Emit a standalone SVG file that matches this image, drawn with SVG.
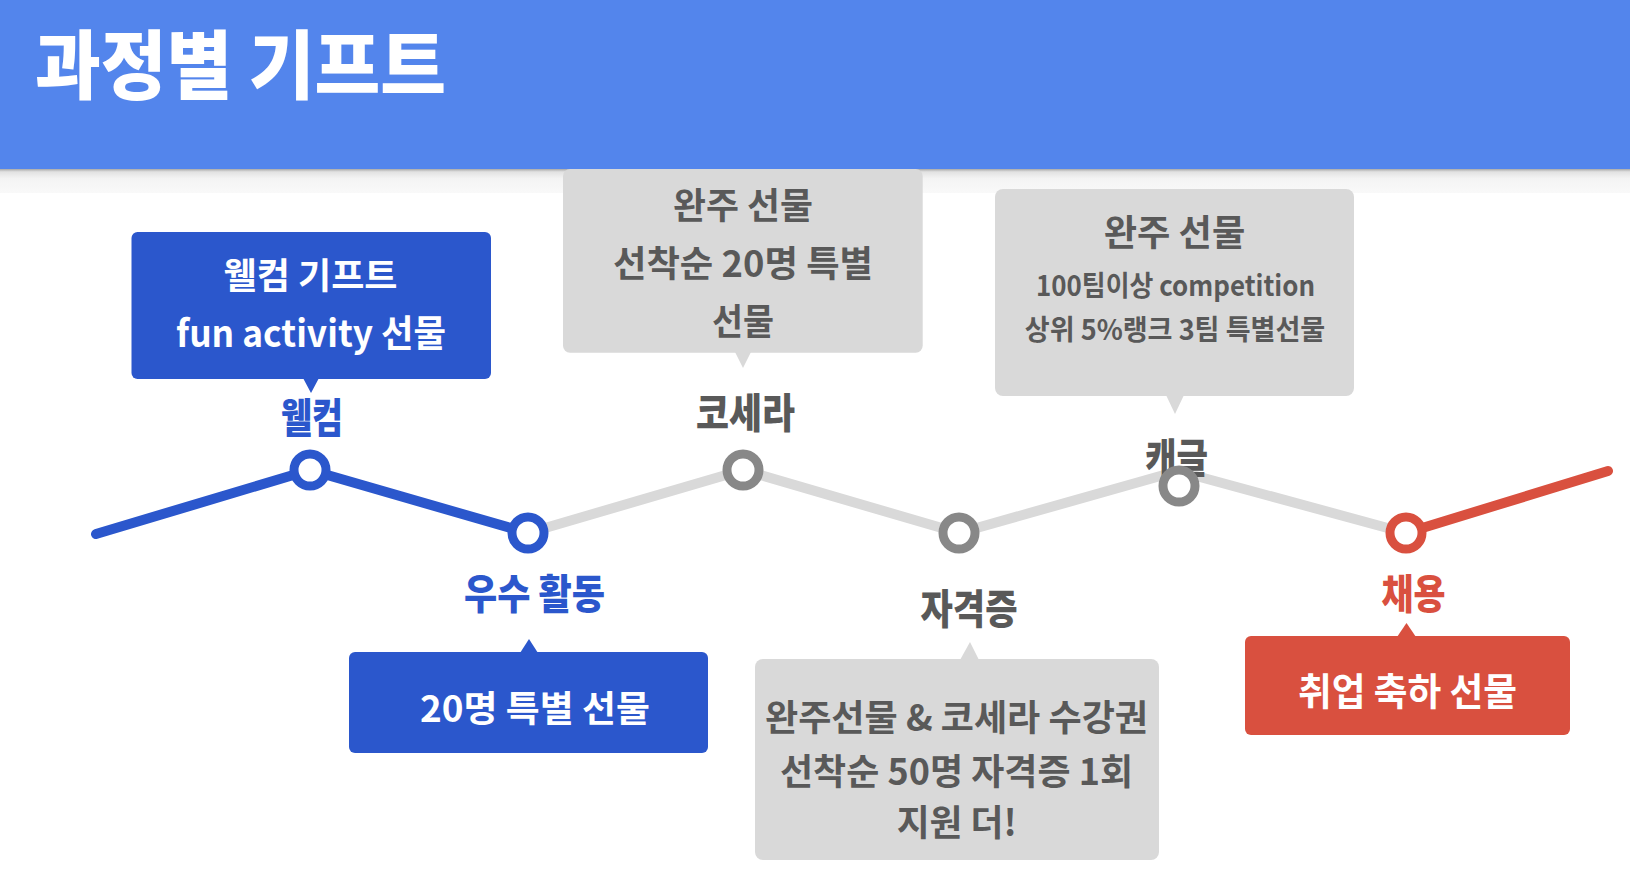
<svg xmlns="http://www.w3.org/2000/svg" width="1630" height="872" viewBox="0 0 1630 872">
<defs>
<linearGradient id="shadow" x1="0" y1="0" x2="0" y2="1">
<stop offset="0" stop-color="#a8a8a8"/>
<stop offset="0.12" stop-color="#e2e2e2"/>
<stop offset="0.4" stop-color="#f4f4f4"/>
<stop offset="1" stop-color="#f9f9f9"/>
</linearGradient>
<style>
text{font-family:"Noto Sans CJK KR","Noto Sans",sans-serif;font-weight:700;text-anchor:middle}
.title{fill:#ffffff;text-anchor:start;font-weight:900}
.wt{fill:#ffffff}
.gt{fill:#595959}
.bl{fill:#2B57CC}
.rd{fill:#D9503F}
.gbox{fill:#D9D9D9}
.lbl{font-size:41px;font-weight:900}
.ring{fill:#ffffff;stroke-width:9}
.seg{fill:none;stroke-width:10;stroke-linecap:round;stroke-linejoin:round}
</style>
</defs>
<rect width="1630" height="872" fill="#ffffff"/>
<g id="header">
<rect x="0" y="169" width="1630" height="24" fill="url(#shadow)"/>
<rect x="0" y="0" width="1630" height="169" fill="#5385EC"/>
<text class="title" x="35" y="93" font-size="75" textLength="411" lengthAdjust="spacingAndGlyphs">과정별 기프트</text>
</g>
<g id="connectors">
<polyline class="seg" stroke="#D9D9D9" points="528,533 743,470 959,533 1178,471 1406,533"/>
<polyline class="seg" stroke="#2B57CC" points="96,534 310,470 528,533"/>
<polyline class="seg" stroke="#D9503F" points="1406,533 1608,471"/>
</g>
<g id="node-welcome">
<rect class="bl" x="131.5" y="232" width="359.5" height="147" rx="6"/>
<polygon class="bl" points="303,378 319,378 311,393"/>
<text class="wt" x="310.5" y="288.5" font-size="36" textLength="174" lengthAdjust="spacingAndGlyphs">웰컴 기프트</text>
<text class="wt" x="311" y="347" font-size="37" textLength="270" lengthAdjust="spacingAndGlyphs">fun activity 선물</text>
<text class="bl lbl" x="312" y="433" textLength="62" lengthAdjust="spacingAndGlyphs">웰컴</text>
<circle class="ring" cx="310" cy="470" r="16" stroke="#2B57CC"/>
</g>
<g id="node-activity">
<circle class="ring" cx="528" cy="533" r="16" stroke="#2B57CC"/>
<text class="bl lbl" x="534.5" y="609" textLength="141" lengthAdjust="spacingAndGlyphs">우수 활동</text>
<rect class="bl" x="349" y="652" width="359" height="101" rx="6"/>
<polygon class="bl" points="520,653 538,653 529,639"/>
<text class="wt" x="535" y="722" font-size="36" textLength="230" lengthAdjust="spacingAndGlyphs">20명 특별 선물</text>
</g>
<g id="node-coursera">
<rect class="gbox" x="563" y="169" width="359.7" height="183.7" rx="7"/>
<polygon class="gbox" points="735,352 751,352 743,368"/>
<text class="gt" x="743" y="219" font-size="36" textLength="140" lengthAdjust="spacingAndGlyphs">완주 선물</text>
<text class="gt" x="743" y="277" font-size="36" textLength="260" lengthAdjust="spacingAndGlyphs">선착순 20명 특별</text>
<text class="gt" x="743" y="335" font-size="36" textLength="62" lengthAdjust="spacingAndGlyphs">선물</text>
<text class="gt lbl" x="745.5" y="428" textLength="99" lengthAdjust="spacingAndGlyphs">코세라</text>
<circle class="ring" cx="743" cy="470" r="16" stroke="#888888"/>
</g>
<g id="node-cert">
<circle class="ring" cx="959" cy="533" r="16" stroke="#888888"/>
<text class="gt lbl" x="969" y="624" textLength="97" lengthAdjust="spacingAndGlyphs">자격증</text>
<rect class="gbox" x="755" y="659" width="404" height="201" rx="8"/>
<polygon class="gbox" points="960,660 979,660 970,642"/>
<text class="gt" x="956.5" y="731" font-size="36" textLength="383" lengthAdjust="spacingAndGlyphs">완주선물 &amp; 코세라 수강권</text>
<text class="gt" x="956.5" y="785" font-size="36" textLength="353" lengthAdjust="spacingAndGlyphs">선착순 50명 자격증 1회</text>
<text class="gt" x="956.7" y="836" font-size="36" textLength="120" lengthAdjust="spacingAndGlyphs">지원 더!</text>
</g>
<g id="node-kaggle">
<rect class="gbox" x="995" y="189" width="359" height="207" rx="8"/>
<polygon class="gbox" points="1166,395 1184,395 1175,414"/>
<text class="gt" x="1174.5" y="246" font-size="36" textLength="141.5" lengthAdjust="spacingAndGlyphs">완주 선물</text>
<text class="gt" x="1175.5" y="295.5" font-size="28" textLength="279" lengthAdjust="spacingAndGlyphs">100팀이상 competition</text>
<text class="gt" x="1175" y="339.5" font-size="28" textLength="300.5" lengthAdjust="spacingAndGlyphs">상위 5%랭크 3팀 특별선물</text>
<text class="gt lbl" x="1176.5" y="473" textLength="63" lengthAdjust="spacingAndGlyphs">캐글</text>
<circle class="ring" cx="1179" cy="486" r="16" stroke="#888888"/>
</g>
<g id="node-hire">
<circle class="ring" cx="1406" cy="533" r="16" stroke="#D9503F"/>
<text class="rd lbl" x="1413.5" y="609" textLength="64" lengthAdjust="spacingAndGlyphs">채용</text>
<rect class="rd" x="1245" y="636" width="325" height="99" rx="6"/>
<polygon class="rd" points="1397,637 1416,637 1406.5,623"/>
<text class="wt" x="1407.5" y="705" font-size="38" textLength="219" lengthAdjust="spacingAndGlyphs">취업 축하 선물</text>
</g>
</svg>
